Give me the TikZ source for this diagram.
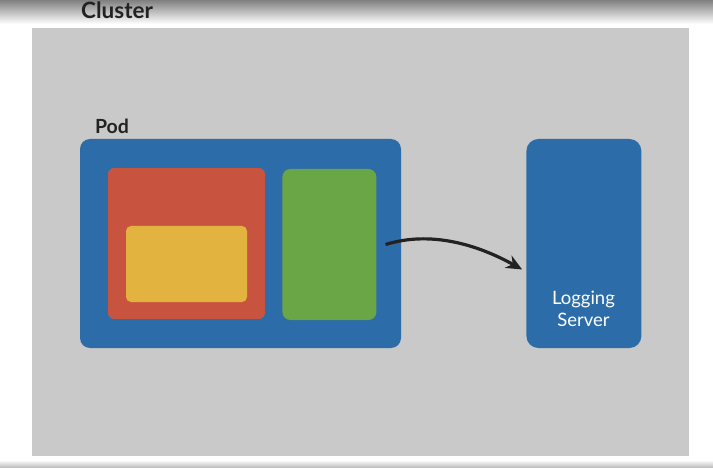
\documentclass[tikz,border=0pt]{standalone}
\usepackage{fontspec}
\setmainfont{Lato}
\usepackage{tikz}
\usetikzlibrary{arrows.meta,positioning}

\definecolor{panelgray}{HTML}{C9C9C9}
\definecolor{podblue}{HTML}{2B6CA9}
\definecolor{boxred}{HTML}{C8533F}
\definecolor{boxyellow}{HTML}{E2B43F}
\definecolor{boxgreen}{HTML}{6AA546}
\definecolor{inkdark}{HTML}{222222}

\begin{document}
\begin{tikzpicture}[
            x=1pt, y=-1pt,
            box/.style={rectangle,inner sep=0pt,minimum width=#1},
            title/.style={inner sep=0pt,text=inkdark,font=\bfseries\fontsize{22.5}{26}\selectfont},
            podlabel/.style={inner sep=0pt,text=inkdark,font=\bfseries\fontsize{19.5}{23}\selectfont},
            >={Stealth[length=16pt,width=14pt]}
        ]
        \useasboundingbox (0,0) rectangle (713,468);

        % Draw frame %
        \shade[top color=black!50, bottom color=white] (0,0) rectangle (713,24);
        \shade[top color=white, bottom color=black!28] (0,460) rectangle (713,468);
        \fill[panelgray] (32,28) rectangle (689,456);
        \node[title, anchor=base west] (cluster) at (81,19) {Cluster};

        % Draw pod %
        \node[box=321pt, minimum height=209pt, fill=podblue, rounded corners=10pt] (pod) at (240.5,243.5) {};
        \node[podlabel, above right=5pt and 15pt of pod.north west, anchor=base west] (podname) {Pod};
        \node[box=157pt, minimum height=151pt, fill=boxred, rounded corners=6pt,
              below right=29pt and 28pt of pod.north west, anchor=north west] (app) {};
        \node[box=121pt, minimum height=76pt, fill=boxyellow, rounded corners=5pt,
              below right=58pt and 18pt of app.north west, anchor=north west] (appfile) {};
        \node[box=94pt, minimum height=151pt, fill=boxgreen, rounded corners=8pt,
              right=17pt of app.north east, anchor=north west, yshift=-1pt] (agent) {};

        % Draw logging server %
        \node[box=115pt, minimum height=209pt, fill=podblue, rounded corners=12pt,
              right=125pt of pod] (logsrv) {};
        \node[inner sep=0pt, align=center, text=white, font=\fontsize{18.5}{21.5}\selectfont]
              (logname) at (583.5,309) {Logging\\Server};

        % Draw arrow %
        \draw[->, line width=3.2pt, inkdark]
              ([xshift=9pt]agent.east) .. controls +(45,-14) and +(-45,-25) .. ([xshift=-4pt,yshift=-26pt]logsrv.west);
\end{tikzpicture}
\end{document}
